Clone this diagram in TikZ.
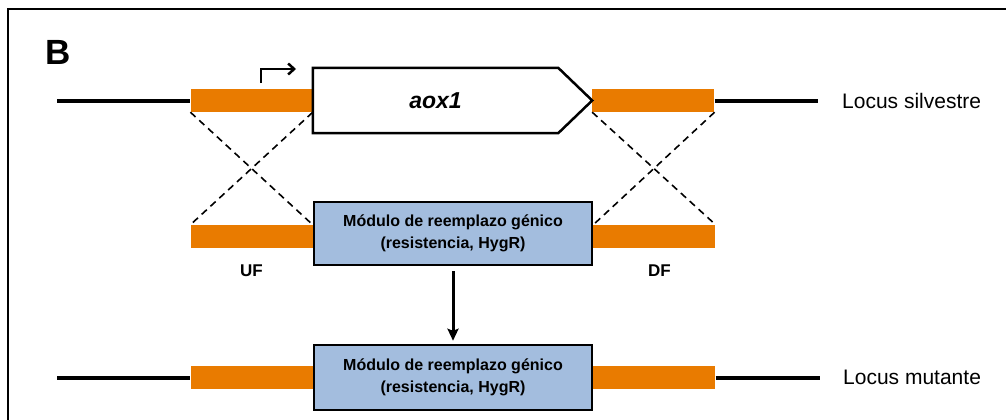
\documentclass[tikz,border=0pt]{standalone}
\usepackage{fontspec}
\setmainfont{Liberation Sans}
\usepackage{tikz}
\usetikzlibrary{positioning,arrows.meta}
\definecolor{flankorange}{RGB}{233,123,0}
\definecolor{moduleblue}{RGB}{163,189,222}

\begin{document}
\begin{tikzpicture}[x=1pt, y=-1pt, >={Stealth[length=12pt,width=11pt,inset=2pt]}]
\tikzstyle{flank}=[rectangle, fill=flankorange, inner sep=0pt, minimum width=122pt, minimum height=23pt]
\tikzstyle{module}=[rectangle, draw, line width=2.5pt, fill=moduleblue, align=center, inner sep=0pt, minimum width=278pt, font=\fontsize{16}{22}\selectfont\bfseries]
\tikzstyle{dna}=[line width=4pt]
\tikzstyle{cross}=[line width=1.6pt, dash pattern=on 7pt off 5pt]
\tikzstyle{locus}=[inner sep=0pt, anchor=west, font=\fontsize{21}{21}\selectfont]
\tikzstyle{flanklabel}=[inner sep=0pt, font=\fontsize{17}{17}\selectfont\bfseries]
\useasboundingbox (0,0) rectangle (1006,420);
\draw[line width=2.5pt] (1006,9) -| (8,420);
\node[inner sep=0pt, anchor=north west, font=\fontsize{35}{35}\selectfont\bfseries] (panel) at (45,40) {B};
\node[inner sep=0pt, minimum width=245pt, minimum height=65pt, font=\fontsize{23}{23}\selectfont\bfseries\itshape] (gene) at (435.5,100.5) {aox1};
\node[flank, left=0pt of gene] (uf1) {};
\node[flank, right=34pt of gene] (df1) {};
\draw[line width=2.5pt, line join=miter] (gene.north east) -- (gene.north west) -- (gene.south west) -- (gene.south east) -- (df1.west) -- cycle;
\coordinate (tss) at (261,83);
\draw[line width=2.5pt, -{Straight Barb[length=6pt,width=11pt]}] (tss) |- ++(35,-14);
\coordinate (l1) at (57,100.5);
\coordinate (r1) at (818,100.5);
\draw[dna] (l1) -- (uf1.west);
\draw[dna] (df1.east) -- (r1);
\node[locus, right=24pt of r1] (wt) {Locus silvestre};
\node[module, minimum height=63pt] (mod1) at (453,233.5) {Módulo de reemplazo génico\\(resistencia, HygR)};
\node[flank, left=0pt of mod1, yshift=-3pt] (uf2) {};
\node[flank, right=0pt of mod1, yshift=-3pt] (df2) {};
\node[flanklabel, below=16pt of uf2] (uflab) {UF};
\node[flanklabel, below=16pt of df2, xshift=5pt] (dflab) {DF};
\draw[cross] (uf1.south west) -- (uf2.north east);
\draw[cross] (uf1.south east) -- (uf2.north west);
\draw[cross] (df1.south west) -- (df2.north east);
\draw[cross] (df1.south east) -- (df2.north west);
\node[module, minimum height=65pt] (mod2) at (453,377.5) {Módulo de reemplazo génico\\(resistencia, HygR)};
\node[flank, left=0pt of mod2] (uf3) {};
\node[flank, right=0pt of mod2] (df3) {};
\draw[line width=3pt, ->, shorten <=5pt, shorten >=3pt] (mod1) -- (mod2);
\coordinate (l2) at (57,377.5);
\coordinate (r2) at (820,377.5);
\draw[dna] (l2) -- (uf3.west);
\draw[dna] (df3.east) -- (r2);
\node[locus, right=23pt of r2] (mut) {Locus mutante};
\end{tikzpicture}
\end{document}
